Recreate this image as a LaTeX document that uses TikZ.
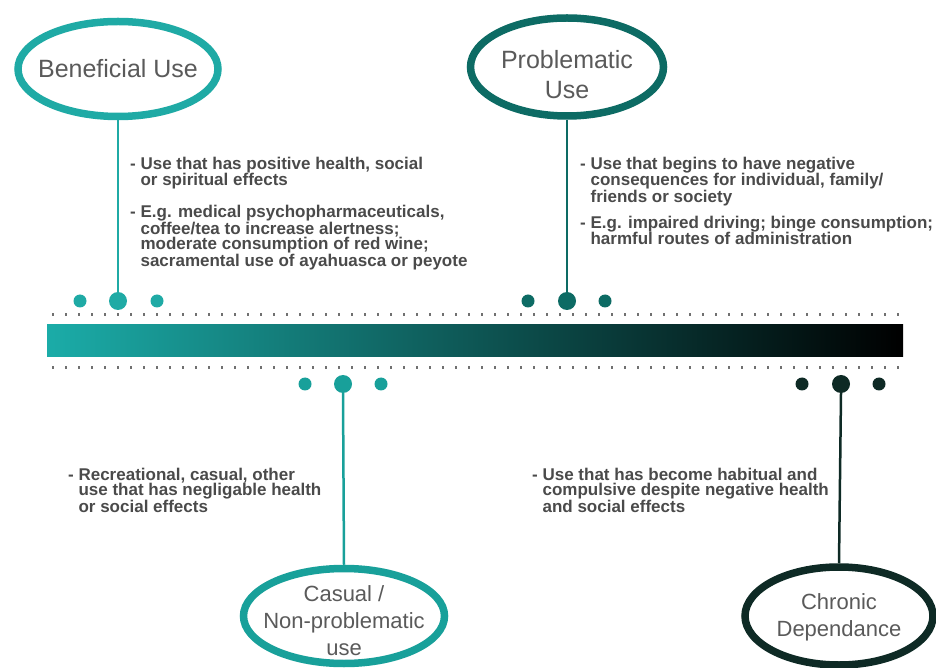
\documentclass[tikz,border=0pt]{standalone}
\usepackage{fontspec}
\setmainfont{Liberation Sans}
\usetikzlibrary{shapes.geometric,positioning}
\definecolor{benefteal}{HTML}{1FAAA5}
\definecolor{casualteal}{HTML}{18A09A}
\definecolor{problemteal}{HTML}{0D6B64}
\definecolor{chronicink}{HTML}{0E2A25}
\definecolor{barleft}{HTML}{1BACA8}
\definecolor{barmid}{HTML}{0B5650}
\definecolor{labelgray}{HTML}{5A5A5A}
\definecolor{notegray}{HTML}{4A4A4A}
\definecolor{rulegray}{HTML}{707070}
\newcommand{\ind}{\hphantom{-\ }}

\begin{document}
\begin{tikzpicture}[
  x=1pt,y=1pt,
  stage/.style={ellipse,draw,line width=7.5pt,fill=white,inner sep=0pt},
  stagelabel/.style={align=center,inner sep=0pt,text=labelgray,
                     font=\fontsize{25}{30}\selectfont},
  lowlabel/.style={stagelabel,font=\fontsize{22}{27}\selectfont},
  notetext/.style={anchor=north west,inner sep=0pt,align=left,text=notegray,
                   font=\fontsize{17}{15.5}\selectfont\bfseries},
  usedot/.style={circle,inner sep=0pt,minimum size=13pt},
  bigdot/.style={circle,inner sep=0pt,minimum size=18pt},
  stem/.style={line width=2.5pt},
  dotrule/.style={line width=3pt,draw=rulegray,dash pattern=on 1.8pt off 11.2pt}
]
\useasboundingbox (0,0) rectangle (936,667);
\clip (0,0) rectangle (936,667);

\draw[dotrule] (52,352) -- (903,352);
\draw[dotrule] (52,299) -- (903,299);
\shade[left color=barleft,middle color=barmid,right color=black] (47,310) rectangle (903,342);

\node[stage,draw=benefteal,minimum width=200pt,minimum height=95pt] (benef) at (118,598) {};
\node[stage,draw=problemteal,minimum width=193pt,minimum height=98pt] (problem) at (567,600) {};
\node[stage,draw=casualteal,minimum width=201pt,minimum height=95pt] (casual) at (344,51) {};
\node[stage,draw=chronicink,minimum width=188pt,minimum height=98pt] (chronic) at (839,51) {};
\node[stagelabel] (beneftext) at (benef.center) {Beneficial Use};
\node[stagelabel] (problemtext) at ([yshift=-8pt]problem.center) {Problematic\\Use};
\node[lowlabel] (casualtext) at ([yshift=-5pt]casual.center) {Casual /\\Non-problematic\\use};
\node[lowlabel] (chronictext) at ([yshift=-1pt]chronic.center) {Chronic\\Dependance};

\node[usedot,fill=benefteal] (benefl) at (80,366) {};
\node[bigdot,fill=benefteal] (benefm) at (118,366) {};
\node[usedot,fill=benefteal] (benefr) at (157,366) {};
\node[usedot,fill=problemteal] (probl) at (528,366) {};
\node[bigdot,fill=problemteal] (probm) at (567,366) {};
\node[usedot,fill=problemteal] (probr) at (605,366) {};
\node[usedot,fill=casualteal] (casl) at (305,283) {};
\node[bigdot,fill=casualteal] (casm) at (343,283) {};
\node[usedot,fill=casualteal] (casr) at (381,283) {};
\node[usedot,fill=chronicink] (chrl) at (802,283) {};
\node[bigdot,fill=chronicink] (chrm) at (841,283) {};
\node[usedot,fill=chronicink] (chrr) at (879,283) {};

\draw[stem,benefteal] (benef.south) -- (benefm.north);
\draw[stem,problemteal] (problem.south) -- (probm.north);
\draw[stem,casualteal] (casm.south) -- (casual.north);
\draw[stem,chronicink] (chrm.south) -- (chronic.north);

\node[notetext] (benefa) at (130,510.5)
  {- Use that has positive health, social\\\ind or spiritual effects};
\node[notetext] (benefb) at (130,462)
  {- E.g. medical psychopharmaceuticals,\\\ind coffee/tea to increase alertness;\\
   \ind moderate consumption of red wine;\\\ind sacramental use of ayahuasca or peyote};
\node[notetext] (proba) at (580,510.5)
  {- Use that begins to have negative\\\ind consequences for individual, family/\\
   \ind friends or society};
\node[notetext] (probb) at (580,451.5)
  {- E.g. impaired driving; binge consumption;\\\ind harmful routes of administration};
\node[notetext] (casa) at (68,199.5)
  {- Recreational, casual, other\\\ind use that has negligable health\\\ind or social effects};
\node[notetext] (chra) at (532,199.5)
  {- Use that has become habitual and\\\ind compulsive despite negative health\\
   \ind and social effects};
\end{tikzpicture}
\end{document}
